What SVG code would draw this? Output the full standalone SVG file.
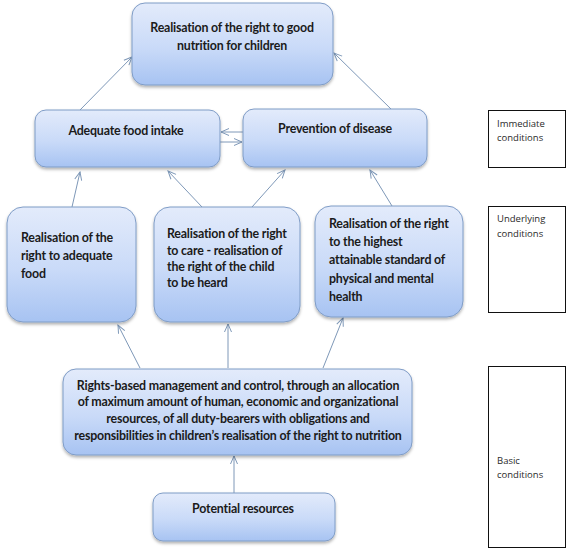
<svg xmlns="http://www.w3.org/2000/svg" width="567" height="549" viewBox="0 0 567 549">
<defs>
<linearGradient id="g" x1="0" y1="0" x2="0" y2="1">
<stop offset="0" stop-color="#e3ebfb"/>
<stop offset="0.55" stop-color="#c9daf8"/>
<stop offset="1" stop-color="#a7c3f2"/>
</linearGradient>
<filter id="sh" x="-10%" y="-10%" width="120%" height="130%">
<feDropShadow dx="0" dy="2" stdDeviation="1.6" flood-color="#000" flood-opacity="0.3"/>
</filter>
<marker id="ah" markerWidth="10" markerHeight="10" refX="9" refY="5" orient="auto" markerUnits="userSpaceOnUse">
<path d="M1,1.5 L9,5 L1,8.5" fill="none" stroke="#7e98b8" stroke-width="1"/>
</marker>
<style>
.box{fill:url(#g);stroke:#7f9cc6;stroke-width:1;filter:url(#sh)}
.t{font-family:Lato,"Liberation Sans",sans-serif;font-weight:bold;font-size:12.4px;letter-spacing:-0.2px;fill:#1b1b1b}
.c{text-anchor:middle}
.lab{font-family:"Open Sans","Liberation Sans",sans-serif;font-size:9.5px;fill:#2a2a2a}
.side{fill:#fff;stroke:#111;stroke-width:1}
.con line{stroke:#7e98b8;stroke-width:1;marker-end:url(#ah)}
</style>
</defs>
<rect width="567" height="549" fill="#fff"/>

<g class="con">
<line x1="80" y1="110" x2="132" y2="57"/>
<line x1="392" y1="110" x2="334" y2="53"/>
<line x1="243" y1="132" x2="221" y2="132"/>
<line x1="220" y1="142" x2="242" y2="142"/>
<line x1="72" y1="207" x2="80" y2="172"/>
<line x1="202" y1="207" x2="168" y2="171"/>
<line x1="252" y1="207" x2="285" y2="170"/>
<line x1="392" y1="206" x2="370" y2="170"/>
<line x1="140" y1="368" x2="118" y2="325"/>
<line x1="228" y1="368" x2="228" y2="324"/>
<line x1="323" y1="368" x2="343" y2="318"/>
<line x1="234" y1="493" x2="234" y2="456"/>
</g>

<g id="n-top">
<rect class="box" x="132" y="3" width="201" height="82" rx="13"/>
<text class="t c" x="232" y="32">Realisation of the right to good</text>
<text class="t c" x="232" y="50">nutrition for children</text>
</g>

<g id="n-food-intake">
<rect class="box" x="35" y="110" width="185" height="57" rx="11"/>
<text class="t c" x="126" y="135">Adequate food intake</text>
</g>

<g id="n-prevention">
<rect class="box" x="243" y="109" width="184" height="58" rx="11"/>
<text class="t c" x="335" y="133">Prevention of disease</text>
</g>

<g id="n-food">
<rect class="box" x="7" y="207" width="129" height="115" rx="16"/>
<text class="t" x="21" y="242">Realisation of the</text>
<text class="t" x="21" y="260">right to adequate</text>
<text class="t" x="21" y="278">food</text>
</g>

<g id="n-care">
<rect class="box" x="154" y="207" width="146" height="115" rx="16"/>
<text class="t" x="167" y="238">Realisation of the right</text>
<text class="t" x="167" y="255">to care  - realisation of</text>
<text class="t" x="167" y="271">the right of the child</text>
<text class="t" x="167" y="287">to be heard</text>
</g>

<g id="n-health">
<rect class="box" x="315" y="206" width="148" height="111" rx="16"/>
<text class="t" x="329" y="228">Realisation of the right</text>
<text class="t" x="329" y="246">to the highest</text>
<text class="t" x="329" y="264">attainable standard of</text>
<text class="t" x="329" y="283">physical and mental</text>
<text class="t" x="329" y="301">health</text>
</g>

<g id="n-management">
<rect class="box" x="63" y="369" width="349" height="86" rx="13"/>
<text class="t c" x="238" y="390">Rights-based management and control, through an allocation</text>
<text class="t c" x="238" y="406">of maximum amount of human, economic and organizational</text>
<text class="t c" x="238" y="423">resources, of all duty-bearers with obligations and</text>
<text class="t c" x="238" y="440">responsibilities in children’s realisation of the right to nutrition</text>
</g>

<g id="n-resources">
<rect class="box" x="153" y="493" width="182" height="48" rx="10"/>
<text class="t c" x="243" y="513">Potential resources</text>
</g>

<g id="side-immediate">
<rect class="side" x="488.5" y="110.5" width="77" height="57"/>
<text class="lab" x="497" y="127">Immediate</text>
<text class="lab" x="497" y="141">conditions</text>
</g>
<g id="side-underlying">
<rect class="side" x="488.5" y="206.5" width="77" height="106"/>
<text class="lab" x="497" y="222">Underlying</text>
<text class="lab" x="497" y="237">conditions</text>
</g>
<g id="side-basic">
<rect class="side" x="488.5" y="366.5" width="77" height="181"/>
<text class="lab" x="497" y="464">Basic</text>
<text class="lab" x="497" y="478">conditions</text>
</g>
</svg>
